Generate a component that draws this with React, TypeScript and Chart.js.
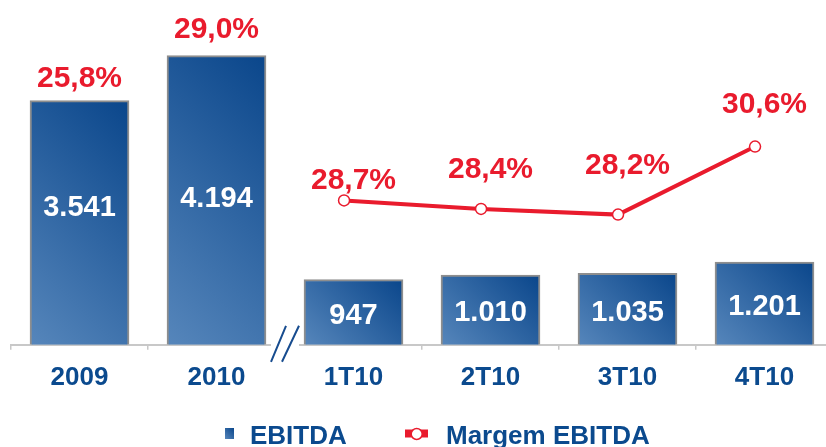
import React, { useEffect, useRef } from 'react';
import { Chart, registerables } from 'chart.js';

Chart.register(...registerables);

// ---------- data ----------
const categories = ['2009', '2010', '1T10', '2T10', '3T10', '4T10'];
const ebitda = [3541, 4194, 947, 1010, 1035, 1201];
const margin = [25.8, 29.0, 28.7, 28.4, 28.2, 30.6];
const annualCount = 2; // 2009 and 2010 are full years, the rest are quarters
const legendLabels = ['EBITDA', 'Margem EBITDA'];

// ---------- styling ----------
const FONT = '"Liberation Sans", Arial, Helvetica, sans-serif';
const BLUE = '#0b4a8e';
const RED = '#e91b2d';
const GRAY = '#c8c8c8';
const BAR_W = 99;
const LINE_SHIFT = 0.069; // line markers sit slightly left of bar centres
const valueNudge = [-17, -4, 1, 1, 1, 1];
const marginLift = [24, 28, 22, 42, 51, 44];

const fmtInt = (v: number) => String(v).replace(/\B(?=(\d{3})+(?!\d))/g, '.');
const fmtPct = (v: number) => v.toFixed(1).replace('.', ',') + '%';

function barGradient(ctx: CanvasRenderingContext2D, left: number, bottom: number, w: number, h: number) {
  const d = (w + h) / 2;
  const g = ctx.createLinearGradient(left, bottom, left + d, bottom - d);
  g.addColorStop(0, '#5686bb');
  g.addColorStop(1, '#0a468b');
  return g;
}

function barFill(c: any) {
  const chart = c.chart;
  const x = chart.scales?.x;
  const y = chart.scales?.y;
  if (!x || !y || c.type !== 'data' || c.raw == null) return '#2d5f9c';
  const cx = x.getPixelForValue(c.dataIndex);
  const top = y.getPixelForValue(c.raw);
  const base = y.getPixelForValue(0);
  if (![cx, top, base].every((n) => Number.isFinite(n)) || base - top <= 0) return '#2d5f9c';
  return barGradient(chart.ctx, cx - BAR_W / 2, base, BAR_W, base - top);
}

const decorations = {
  id: 'decorations',
  afterDatasetsDraw(chart: any) {
    const { ctx, scales } = chart;
    const x = scales.x, y = scales.y, y1 = scales.y1;
    ctx.save();
    ctx.textAlign = 'center';
    ctx.textBaseline = 'alphabetic';

    // values inside bars
    ctx.font = `bold 29px ${FONT}`;
    ctx.fillStyle = '#ffffff';
    ebitda.forEach((v, i) => {
      const cx = x.getPixelForValue(i);
      const mid = (y.getPixelForValue(v) + y.getPixelForValue(0)) / 2 + valueNudge[i];
      ctx.fillText(fmtInt(v), cx, mid + 0.358 * 29);
    });

    // margin labels
    ctx.font = `bold 30px ${FONT}`;
    ctx.fillStyle = RED;
    margin.forEach((m, i) => {
      const anchor = i < annualCount ? y.getPixelForValue(ebitda[i]) : y1.getPixelForValue(m);
      const cy = anchor - marginLift[i];
      ctx.fillText(fmtPct(m), x.getPixelForValue(i), cy + 0.358 * 30);
    });
    ctx.restore();
  },
  afterDraw(chart: any) {
    const { ctx, scales, chartArea } = chart;
    const x = scales.x;
    ctx.save();
    // axis break between years and quarters
    const b = (x.getPixelForValue(annualCount - 1) + x.getPixelForValue(annualCount)) / 2;
    const yb = chartArea.bottom;
    ctx.fillStyle = '#ffffff';
    ctx.fillRect(b - 14, yb - 4, 28, 12);
    ctx.strokeStyle = '#174c8f';
    ctx.lineWidth = 2;
    ctx.beginPath();
    ctx.moveTo(b - 14, yb + 17);
    ctx.lineTo(b + 1, yb - 19);
    ctx.moveTo(b - 3, yb + 17);
    ctx.lineTo(b + 14, yb - 19);
    ctx.stroke();

    // legend
    ctx.fillStyle = barGradient(ctx, 225, 439, 9, 11);
    ctx.fillRect(225, 428, 9, 11);
    ctx.font = `bold 26px ${FONT}`;
    ctx.fillStyle = BLUE;
    ctx.textAlign = 'left';
    ctx.textBaseline = 'alphabetic';
    ctx.fillText(legendLabels[0], 250, 444);

    ctx.strokeStyle = RED;
    ctx.lineWidth = 8;
    ctx.beginPath();
    ctx.moveTo(405, 433.5);
    ctx.lineTo(428, 433.5);
    ctx.stroke();
    ctx.beginPath();
    ctx.arc(416.7, 434, 5.5, 0, Math.PI * 2);
    ctx.fillStyle = '#ffffff';
    ctx.fill();
    ctx.lineWidth = 1.5;
    ctx.stroke();
    ctx.fillStyle = BLUE;
    ctx.fillText(legendLabels[1], 446, 444);
    ctx.restore();
  },
};

export default function App() {
  const ref = useRef<HTMLCanvasElement>(null);

  useEffect(() => {
    const linePoints = margin
      .map((v, i) => ({ x: i, y: v }))
      .filter((p) => p.x >= annualCount);

    const chart = new Chart(ref.current as HTMLCanvasElement, {
      type: 'bar',
      data: {
        labels: categories,
        datasets: [
          {
            type: 'line',
            label: legendLabels[1],
            data: linePoints as any,
            xAxisID: 'xl',
            yAxisID: 'y1',
            order: 0,
            borderColor: RED,
            borderWidth: 4,
            pointRadius: 5.5,
            pointBackgroundColor: '#ffffff',
            pointBorderColor: RED,
            pointBorderWidth: 1.5,
            tension: 0,
            fill: false,
          } as any,
          {
            type: 'bar',
            label: legendLabels[0],
            data: ebitda,
            xAxisID: 'x',
            yAxisID: 'y',
            order: 1,
            grouped: false,
            barThickness: BAR_W,
            backgroundColor: barFill as any,
            borderColor: '#8e8e8e',
            borderWidth: 2,
            borderSkipped: 'start',
          } as any,
        ],
      },
      options: {
        animation: false,
        responsive: false,
        devicePixelRatio: 1,
        events: [],
        layout: { padding: { left: 11, right: 3, top: 6, bottom: 42 } },
        plugins: {
          legend: { display: false },
          tooltip: { enabled: false },
        },
        scales: {
          x: {
            type: 'category',
            offset: true,
            grid: {
              offset: true,
              drawOnChartArea: false,
              drawTicks: true,
              tickLength: 5,
              lineWidth: 1.5,
              color: (c: any) => (c.index === annualCount ? 'rgba(0,0,0,0)' : GRAY),
            },
            border: { display: true, color: GRAY, width: 2 },
            ticks: {
              color: BLUE,
              padding: 12,
              maxRotation: 0,
              autoSkip: false,
              font: { family: FONT, size: 26, weight: 'bold' },
            },
          },
          xl: {
            type: 'linear',
            display: false,
            offset: false,
            grid: { offset: false },
            bounds: 'data',
            min: -0.5 + LINE_SHIFT,
            max: categories.length - 0.5 + LINE_SHIFT,
          },
          y: { display: false, min: 0, max: 4900 },
          y1: { display: false, beginAtZero: false, min: 23.61, max: 35.52 },
        } as any,
      },
      plugins: [decorations],
    } as any);

    return () => chart.destroy();
  }, []);

  return (
    <div
      style={{
        position: 'fixed',
        left: 0,
        top: 0,
        width: 826,
        height: 447,
        overflow: 'hidden',
        background: '#ffffff',
      }}
    >
      <canvas ref={ref} width={840} height={447} style={{ display: 'block', width: 840, height: 447 }} />
    </div>
  );
}
